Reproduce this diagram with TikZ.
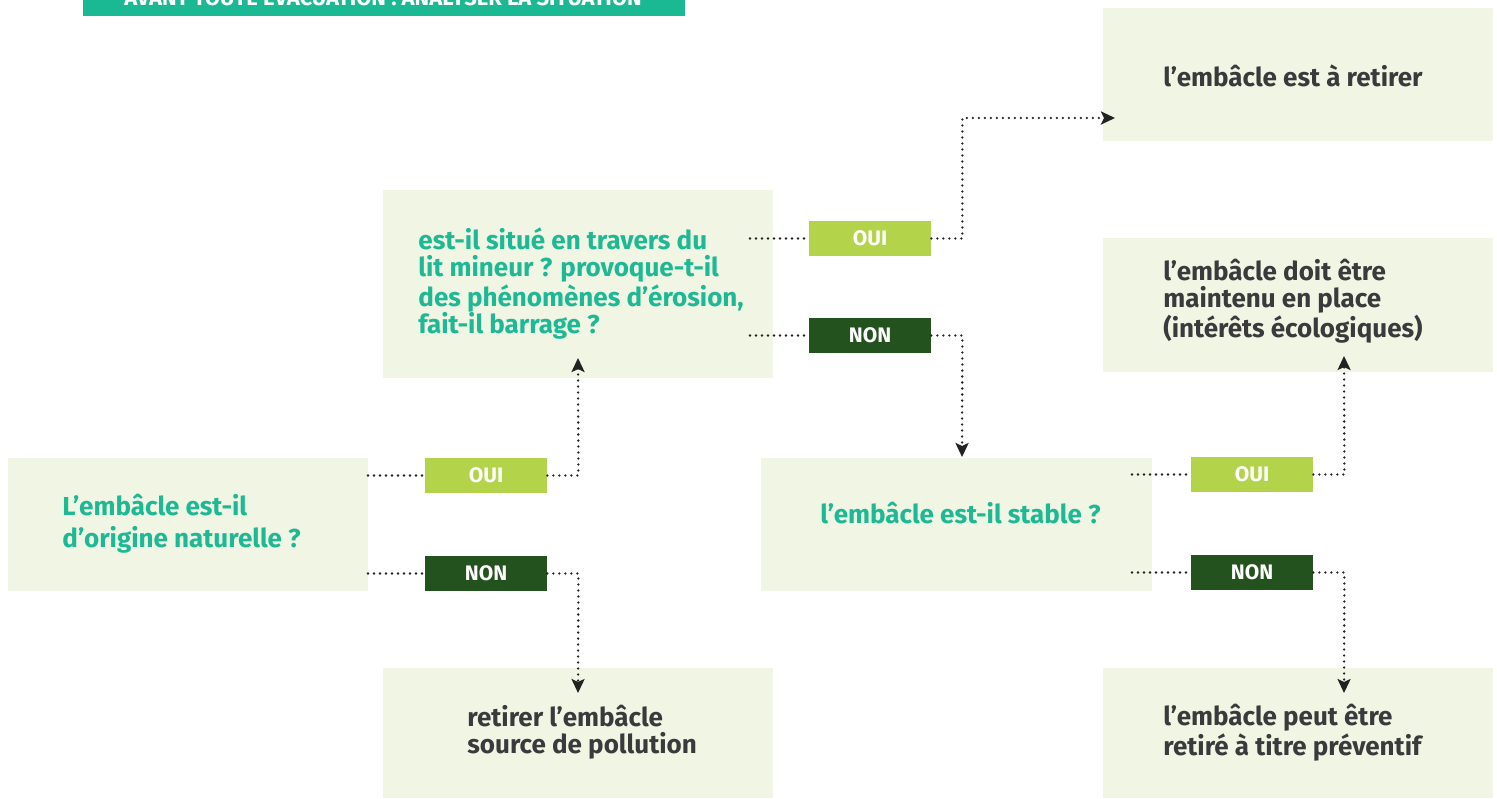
\documentclass[tikz,border=0pt]{standalone}
\usepackage{fontspec}
\setmainfont{Fira Sans}
\usetikzlibrary{arrows.meta}
\definecolor{qteal}{RGB}{29,185,148}
\definecolor{bannerteal}{RGB}{27,184,148}
\definecolor{boxbg}{RGB}{241,245,227}
\definecolor{ouigreen}{RGB}{178,211,74}
\definecolor{nongreen}{RGB}{36,82,30}
\definecolor{darktext}{RGB}{58,58,60}
\definecolor{dotcol}{RGB}{34,34,34}
\begin{document}
\begin{tikzpicture}[x=0.5pt,y=-0.5pt,
  box/.style={fill=boxbg, draw=none, inner sep=0pt},
  qtext/.style={anchor=west, align=left, inner sep=0pt, text=qteal, font=\bfseries\fontsize{13}{13.5}\selectfont},
  rtext/.style={anchor=west, align=left, inner sep=0pt, text=darktext, font=\bfseries\fontsize{13}{13.5}\selectfont},
  lab/.style={inner sep=0pt, minimum width=61pt, minimum height=17.5pt, text=white, font=\bfseries\fontsize{10.5}{11}\selectfont},
  oui/.style={lab, fill=ouigreen},
  non/.style={lab, fill=nongreen},
  dotline/.style={draw=dotcol, line width=1.3pt, line cap=round, dash pattern=on 0pt off 3pt},
  dotarrow/.style={dotline, -{Stealth[length=7pt,width=6.5pt,inset=1.5pt]}}
]
\clip (0,0) rectangle (1497,798);
% banner
\node[fill=bannerteal, inner sep=0pt, minimum width=301pt, minimum height=16pt] (banner) at (384,0) {};
\node[anchor=base, inner sep=0pt, text=white, font=\bfseries\fontsize{11}{12}\selectfont] (bannertext) at (383,5) {AVANT TOUTE ÉVACUATION : ANALYSER LA SITUATION};
% boxes
\node[box, minimum width=195pt, minimum height=94pt] (A) at (578,284) {};
\node[box, minimum width=180pt, minimum height=66.5pt] (B) at (188,524.5) {};
\node[box, minimum width=195pt, minimum height=65pt] (C) at (578,733) {};
\node[box, minimum width=195.5pt, minimum height=66.5pt] (D) at (956.5,524.5) {};
\node[box, minimum width=195pt, minimum height=66.5pt] (E) at (1298,74.5) {};
\node[box, minimum width=195pt, minimum height=67pt] (F) at (1298,305) {};
\node[box, minimum width=195pt, minimum height=65pt] (G) at (1298,733) {};
% texts
\node[qtext] (tA) at (418,283.5) {est-il situé en travers du\\lit mineur ? provoque-t-il\\des phénomènes d’érosion,\\fait-il barrage ?};
\node[qtext, font=\bfseries\fontsize{13}{16}\selectfont] (tB) at (62,524) {L’embâcle est-il\\d’origine naturelle ?};
\node[rtext] (tC) at (467,732.5) {retirer l’embâcle\\source de pollution};
\node[qtext] (tD) at (820,513) {l’embâcle est-il stable ?};
\node[rtext] (tE) at (1163,76) {l’embâcle est à retirer};
\node[rtext] (tF) at (1163,301.5) {l’embâcle doit être\\maintenu en place\\(intérêts écologiques)};
\node[rtext] (tG) at (1163,732.5) {l’embâcle peut être\\retiré à titre préventif};
% labels
\node[oui] (ouiA) at (870,238.5) {OUI};
\node[non] (nonA) at (870,335.5) {NON};
\node[oui] (ouiB) at (486,475.5) {OUI};
\node[non] (nonB) at (486,573.5) {NON};
\node[oui] (ouiD) at (1252,474.5) {OUI};
\node[non] (nonD) at (1252,572.5) {NON};
% connector anchors
\coordinate (aO) at (750,238.5);
\coordinate (aN) at (750,335.5);
\coordinate (bO) at (368,475.5);
\coordinate (bN) at (368,573.5);
\coordinate (dO) at (1132,474.5);
\coordinate (dN) at (1132,572.5);
\coordinate (eIn) at (1115,118);
\coordinate (dIn) at (962,457);
\coordinate (aIn) at (578,358);
\coordinate (cIn) at (578,693);
\coordinate (fIn) at (1344,356);
\coordinate (gIn) at (1344,693);
% connectors
\draw[dotline] (aO) -- (ouiA.west);
\draw[dotarrow] (ouiA.east) -- ++(31,0) |- (eIn);
\draw[dotline] (aN) -- (nonA.west);
\draw[dotarrow] (nonA.east) -- ++(31,0) -- (dIn);
\draw[dotline] (bO) -- (ouiB.west);
\draw[dotarrow] (ouiB.east) -- ++(31,0) -- (aIn);
\draw[dotline] (bN) -- (nonB.west);
\draw[dotarrow] (nonB.east) -- ++(31,0) -- (cIn);
\draw[dotline] (dO) -- (ouiD.west);
\draw[dotarrow] (ouiD.east) -- ++(31,0) -- (fIn);
\draw[dotline] (dN) -- (nonD.west);
\draw[dotarrow] (nonD.east) -- ++(31,0) -- (gIn);
\end{tikzpicture}
\end{document}
